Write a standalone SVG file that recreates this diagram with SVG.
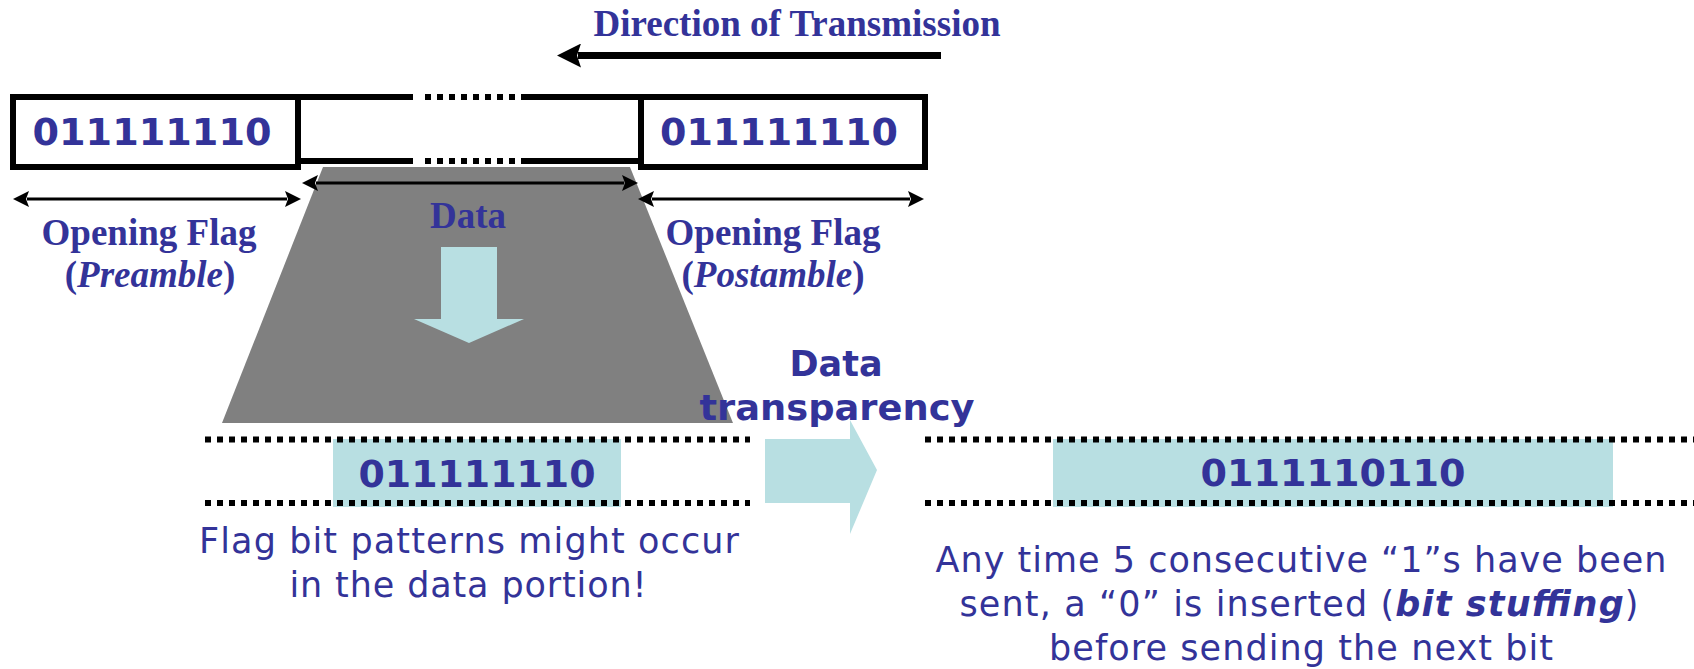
<svg xmlns="http://www.w3.org/2000/svg" width="1694" height="669" viewBox="0 0 1694 669">
  <style>
    .serif { font-family: "Liberation Serif", "Times New Roman", serif; font-weight: bold; font-size: 37px; fill: #333399; }
    .bits { font-family: "DejaVu Sans", Verdana, sans-serif; font-weight: bold; font-size: 38px; fill: #333399; }
    .label { font-family: "DejaVu Sans", Verdana, sans-serif; font-size: 35px; fill: #333399; }
    .heading { font-family: "DejaVu Sans", Verdana, sans-serif; font-weight: bold; font-size: 35px; fill: #333399; }
    .frame { fill: #ffffff; stroke: #000000; stroke-width: 6; }
    .bar { fill: #000000; }
    .dots { stroke: #000000; stroke-width: 6; stroke-dasharray: 6 6; fill: none; }
    .span { stroke: #000000; stroke-width: 3; fill: none; marker-start: url(#head); marker-end: url(#head); }
    .cyan { fill: #b8dfe2; }
  </style>
  <defs>
    <marker id="head" markerUnits="userSpaceOnUse" markerWidth="16" markerHeight="16" refX="2" refY="8" orient="auto-start-reverse">
      <path d="M0,0 L16,8 L0,16 L3,8 z" fill="#000000"/>
    </marker>
    <marker id="bighead" markerUnits="userSpaceOnUse" markerWidth="24" markerHeight="24" refX="3" refY="12" orient="auto">
      <path d="M0,0 L24,12 L0,24 L4,12 z" fill="#000000"/>
    </marker>
  </defs>

  <!-- direction of transmission -->
  <g id="direction">
    <text class="serif" x="797" y="36" text-anchor="middle" font-size="36">Direction of Transmission</text>
  </g>

  <!-- data funnel -->
  <g id="funnel">
    <polygon points="323,167 630,167 733,423 222,423" fill="#808080"/>
    <text class="serif" x="468" y="228" text-anchor="middle">Data</text>
    <polygon class="cyan" points="441,247 497,247 497,319 524,319 469,343 414,319 441,319"/>
  </g>

  <!-- frame: preamble flag -->
  <g id="preamble">
    <rect class="frame" x="13" y="97" width="285" height="70"/>
    <text class="bits" x="152" y="145" text-anchor="middle" textLength="239" lengthAdjust="spacingAndGlyphs">011111110</text>
  </g>

  <!-- frame: data section -->
  <g id="data-section">
    <rect class="bar" x="301" y="94" width="112" height="6"/>
    <rect class="bar" x="521" y="94" width="117" height="6"/>
    <line class="dots" x1="425" y1="97" x2="520" y2="97"/>
    <rect class="bar" x="301" y="158" width="112" height="6"/>
    <rect class="bar" x="521" y="158" width="117" height="6"/>
    <line class="dots" x1="425" y1="161" x2="520" y2="161"/>
  </g>

  <!-- frame: postamble flag -->
  <g id="postamble">
    <rect class="frame" x="641" y="97" width="284" height="70"/>
    <text class="bits" x="779" y="145" text-anchor="middle" textLength="238" lengthAdjust="spacingAndGlyphs">011111110</text>
  </g>

  <!-- flag labels -->
  <g id="label-preamble">
    <text class="serif" x="149" y="245" text-anchor="middle">Opening Flag</text>
    <text class="serif" x="150" y="287" text-anchor="middle">(<tspan font-style="italic">Preamble</tspan>)</text>
  </g>
  <g id="label-postamble">
    <text class="serif" x="773" y="245" text-anchor="middle">Opening Flag</text>
    <text class="serif" x="773" y="287" text-anchor="middle">(<tspan font-style="italic">Postamble</tspan>)</text>
  </g>

  <!-- raw data stream with flag pattern -->
  <g id="raw-stream">
    <rect class="cyan" x="333" y="439" width="288" height="68"/>
    <line class="dots" x1="205" y1="439.5" x2="750" y2="439.5"/>
    <line class="dots" x1="205" y1="503" x2="750" y2="503"/>
    <text class="bits" x="477" y="487" text-anchor="middle" textLength="237" lengthAdjust="spacingAndGlyphs">011111110</text>
    <text class="label" x="469" y="553" text-anchor="middle" textLength="540" lengthAdjust="spacing">Flag bit patterns might occur</text>
    <text class="label" x="468" y="597" text-anchor="middle" textLength="357" lengthAdjust="spacing">in the data portion!</text>
  </g>

  <!-- transparency step -->
  <g id="transparency">
    <polygon class="cyan" points="765,439 850,439 850,420 877,470 850,534 850,503 765,503"/>
    <text class="heading" x="836" y="376" text-anchor="middle">Data</text>
    <text class="heading" x="837" y="420" text-anchor="middle" textLength="275" lengthAdjust="spacingAndGlyphs">transparency</text>
  </g>

  <!-- stuffed data stream -->
  <g id="stuffed-stream">
    <rect class="cyan" x="1053" y="439" width="560" height="68"/>
    <line class="dots" x1="925" y1="439.5" x2="1694" y2="439.5"/>
    <line class="dots" x1="925" y1="503" x2="1694" y2="503"/>
    <text class="bits" x="1333" y="486" text-anchor="middle" textLength="265" lengthAdjust="spacingAndGlyphs">0111110110</text>
    <text class="label" x="1301" y="572" text-anchor="middle" textLength="731" lengthAdjust="spacing">Any time 5 consecutive “1”s have been</text>
    <text class="label" x="1299" y="616" text-anchor="middle" textLength="679" lengthAdjust="spacing">sent, a “0” is inserted (<tspan font-weight="bold" font-style="italic">bit stuffing</tspan>)</text>
    <text class="label" x="1301" y="660" text-anchor="middle" textLength="504" lengthAdjust="spacing">before sending the next bit</text>
  </g>

  <!-- connectors -->
  <g id="connectors">
    <line x1="941" y1="55.5" x2="578" y2="55.5" stroke="#000000" stroke-width="7" marker-end="url(#bighead)"/>
    <line class="span" x1="27" y1="199" x2="287" y2="199"/>
    <line class="span" x1="316" y1="183" x2="624" y2="183"/>
    <line class="span" x1="652" y1="199" x2="910" y2="199"/>
  </g>
</svg>
